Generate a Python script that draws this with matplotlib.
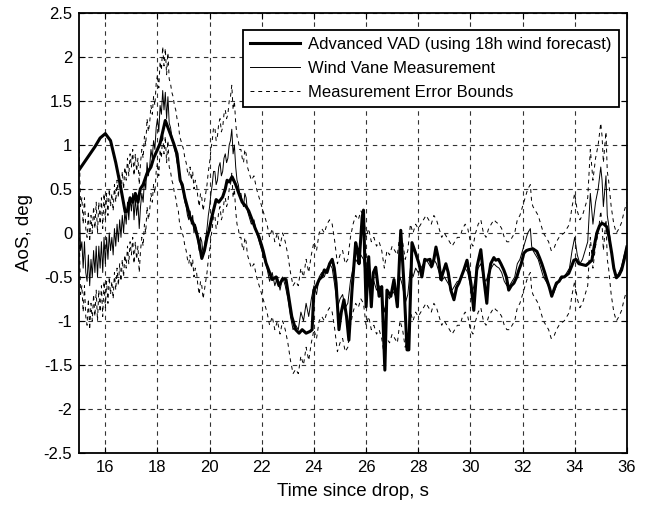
import numpy as np
import matplotlib
matplotlib.use("Agg")
import matplotlib.pyplot as plt
from matplotlib.ticker import FuncFormatter

plt.rcParams['font.family'] = ['Liberation Sans', 'DejaVu Sans']
plt.rcParams['axes.unicode_minus'] = False

# Advanced VAD estimate (thick line)
vad_t = [15.0, 15.3, 15.6, 15.8, 16.0, 16.2, 16.4, 16.57, 16.76, 16.85, 16.95, 17.05, 17.15, 17.25,
         17.34, 17.45, 17.6, 17.75, 17.85, 18.0, 18.1, 18.2, 18.3, 18.4, 18.5, 18.62, 18.75, 18.87,
         18.95, 19.05, 19.14, 19.25, 19.37, 19.5, 19.6, 19.7, 19.8, 19.9, 19.98, 20.1, 20.25, 20.35,
         20.5, 20.6, 20.67, 20.75, 20.86, 21.0, 21.12, 21.25, 21.4, 21.5, 21.63, 21.75, 21.9, 22.05,
         22.16, 22.3, 22.4, 22.55, 22.66, 22.8, 22.93, 23.05, 23.15, 23.3, 23.43, 23.55, 23.7, 23.85,
         23.93, 24.0, 24.1, 24.2, 24.3, 24.4, 24.5, 24.6, 24.7, 24.78, 24.85, 24.96, 25.05, 25.15,
         25.25, 25.34, 25.46, 25.6, 25.67, 25.73, 25.85, 25.9, 26.0, 26.1, 26.2, 26.28, 26.37, 26.5,
         26.6, 26.72, 26.8, 26.95, 27.07, 27.2, 27.33, 27.45, 27.57, 27.64, 27.76, 27.9, 28.03, 28.14,
         28.25, 28.33, 28.45, 28.52, 28.6, 28.68, 28.78, 28.87, 28.95, 29.06, 29.15, 29.25, 29.37,
         29.47, 29.56, 29.65, 29.75, 29.87, 30.02, 30.13, 30.25, 30.4, 30.52, 30.63, 30.7, 30.78,
         30.9, 30.97, 31.08, 31.17, 31.28, 31.38, 31.47, 31.57, 31.67, 31.78, 31.86, 31.95, 32.05,
         32.15, 32.24, 32.4, 32.55, 32.65, 32.74, 32.85, 32.93, 33.03, 33.12, 33.2, 33.3, 33.4, 33.5,
         33.6, 33.77, 33.88, 33.97, 34.05, 34.16, 34.3, 34.43, 34.55, 34.66, 34.75, 34.85, 34.95,
         35.04, 35.12, 35.23, 35.32, 35.42, 35.5, 35.6, 35.7, 35.8, 35.9, 36.0]
vad_aos = [0.72, 0.85, 0.98, 1.08, 1.13, 1.05, 0.8, 0.55, 0.24, 0.25, 0.4, 0.35, 0.45, 0.35,
           0.5, 0.55, 0.68, 0.75, 0.85, 0.95, 1.02, 1.15, 1.28, 1.2, 1.12, 1.02, 0.9, 0.6,
           0.55, 0.4, 0.3, 0.18, 0.11, 0.0, -0.12, -0.29, -0.2, -0.05, 0.03, 0.2, 0.38, 0.35,
           0.41, 0.5, 0.6, 0.58, 0.64, 0.55, 0.45, 0.35, 0.3, 0.25, 0.15, 0.05, -0.05, -0.2,
           -0.34, -0.45, -0.53, -0.5, -0.6, -0.52, -0.53, -0.76, -0.95, -1.1, -1.14, -1.1, -1.14, -1.12,
           -1.1, -0.65, -0.6, -0.53, -0.5, -0.42, -0.45, -0.35, -0.3, -0.4, -0.57, -1.1, -0.9, -0.76,
           -0.95, -1.22, -0.65, -0.11, -0.2, -0.35, 0.18, 0.26, -0.84, -0.27, -0.84, -0.45, -0.39, -0.72,
           -0.61, -1.56, -0.65, -0.72, -0.53, -0.84, 0.03, -0.57, -1.33, -1.33, -0.11, -0.23, -0.35, -0.5,
           -0.3, -0.31, -0.3, -0.38, -0.3, -0.16, -0.3, -0.53, -0.45, -0.35, -0.45, -0.65, -0.76,
           -0.62, -0.57, -0.5, -0.42, -0.31, -0.57, -0.88, -0.39, -0.19, -0.53, -0.8, -0.5, -0.35,
           -0.28, -0.31, -0.3, -0.35, -0.42, -0.5, -0.65, -0.6, -0.57, -0.5, -0.42, -0.35, -0.23,
           -0.2, -0.19, -0.18, -0.21, -0.28, -0.35, -0.45, -0.53, -0.62, -0.72, -0.65, -0.57, -0.55, -0.5,
           -0.5, -0.46, -0.38, -0.31, -0.3, -0.35, -0.36, -0.37, -0.34, -0.31, -0.15, 0.0, 0.08,
           0.11, 0.1, 0.07, -0.05, -0.23, -0.4, -0.51, -0.48, -0.42, -0.3, -0.16]

# wind vane measurement (thin line)
vane_t = [15.0, 15.05, 15.1, 15.15, 15.2, 15.25, 15.3, 15.35, 15.4, 15.45, 15.5, 15.55, 15.6, 15.65,
          15.7, 15.75, 15.8, 15.85, 15.9, 15.95, 16.0, 16.05, 16.1, 16.15, 16.2, 16.25, 16.3, 16.35,
          16.4, 16.45, 16.5, 16.55, 16.6, 16.65, 16.7, 16.75, 16.8, 16.85, 16.9, 16.95, 17.0, 17.05,
          17.1, 17.15, 17.2, 17.25, 17.3, 17.35, 17.4, 17.45, 17.5, 17.55, 17.6, 17.65, 17.7, 17.75,
          17.8, 17.85, 17.9, 17.95, 18.0, 18.05, 18.1, 18.15, 18.2, 18.25, 18.3, 18.35, 18.4, 18.45,
          18.5, 18.55, 18.6, 18.65, 18.7, 18.75, 18.8, 18.85, 18.9, 18.95, 19.0, 19.05, 19.1, 19.15,
          19.2, 19.25, 19.3, 19.35, 19.4, 19.45, 19.5, 19.55, 19.6, 19.65, 19.7, 19.75, 19.8, 19.85,
          19.9, 19.95, 20.0, 20.05, 20.1, 20.15, 20.2, 20.25, 20.3, 20.35, 20.4, 20.45, 20.5, 20.55,
          20.6, 20.65, 20.7, 20.75, 20.8, 20.85, 20.9, 20.95, 21.0, 21.05, 21.1, 21.15, 21.2, 21.25,
          21.3, 21.35, 21.4, 21.45, 21.5, 21.6, 21.7, 21.8, 21.9, 22.0, 22.1, 22.2, 22.3, 22.4,
          22.5, 22.6, 22.7, 22.8, 22.9, 23.0, 23.1, 23.2, 23.3, 23.4, 23.5, 23.6, 23.7, 23.8,
          23.9, 24.0, 24.1, 24.2, 24.3, 24.4, 24.5, 24.6, 24.7, 24.8, 24.9, 25.0, 25.1, 25.2,
          25.3, 25.4, 25.5, 25.6, 25.7, 25.8, 25.9, 26.0, 26.1, 26.2, 26.3, 26.4, 26.5, 26.6,
          26.7, 26.8, 26.9, 27.0, 27.1, 27.2, 27.3, 27.4, 27.5, 27.6, 27.7, 27.8, 27.9, 28.0,
          28.1, 28.2, 28.3, 28.4, 28.5, 28.6, 28.7, 28.8, 28.9, 29.0, 29.1, 29.2, 29.3, 29.4,
          29.5, 29.6, 29.7, 29.8, 29.9, 30.0, 30.1, 30.2, 30.3, 30.4, 30.5, 30.6, 30.7, 30.8,
          30.9, 31.0, 31.1, 31.2, 31.3, 31.4, 31.5, 31.6, 31.7, 31.8, 31.9, 32.0, 32.1, 32.2,
          32.3, 32.35, 32.4, 32.5, 32.6, 32.7, 32.8, 32.9, 33.0, 33.1, 33.2, 33.3, 33.4, 33.5,
          33.6, 33.7, 33.8, 33.9, 34.0, 34.1, 34.2, 34.3, 34.4, 34.5, 34.6, 34.7, 34.8, 34.9,
          35.0, 35.05, 35.1, 35.2, 35.25, 35.3, 35.4, 35.5, 35.6, 35.7, 35.8, 35.9, 36.0]
vane_aos = [0.45, -0.2, -0.1, -0.4, -0.1, -0.45, -0.55, -0.25, -0.6, -0.3, -0.5, -0.2, -0.45, -0.15,
            -0.5, -0.15, -0.4, -0.1, -0.45, -0.05, -0.35, -0.05, -0.3, 0.0, -0.2, -0.05, -0.25, 0.05,
            -0.15, 0.1, -0.1, 0.15, -0.05, 0.2, 0.0, 0.25, 0.1, 0.35, 0.15, 0.4, 0.25, 0.45,
            0.15, 0.4, 0.2, 0.35, 0.05, 0.3, 0.45, 0.35, 0.6, 0.5, 0.8, 0.65, 0.75, 0.95,
            0.85, 1.05, 0.95, 1.2, 1.3, 1.15, 1.45, 1.35, 1.62, 1.4, 1.6, 1.3, 1.55, 1.25,
            1.2, 1.1, 1.05, 0.95, 0.9, 0.8, 0.75, 0.6, 0.55, 0.5, 0.45, 0.35, 0.3, 0.2,
            0.15, 0.25, 0.1, 0.2, 0.0, 0.1, 0.05, -0.1, -0.2, -0.05, -0.1, -0.25, -0.15, -0.05,
            0.05, 0.2, 0.3, 0.45, 0.55, 0.7, 0.7, 0.55, 0.6, 0.75, 0.8, 0.65, 0.7, 0.85,
            0.9, 0.8, 0.85, 1.0, 1.05, 1.18, 0.9, 1.0, 0.75, 0.6, 0.55, 0.45, 0.45, 0.35,
            0.3, 0.45, 0.4, 0.25, 0.2, 0.1, 0.15, 0.0, -0.1, -0.2, -0.3, -0.4, -0.55, -0.45,
            -0.6, -0.5, -0.65, -0.5, -0.6, -0.75, -0.95, -1.1, -1.05, -1.1, -0.9, -1.0, -0.8, -0.95,
            -0.75, -0.6, -0.7, -0.5, -0.45, -0.5, -0.4, -0.35, -0.4, -0.6, -0.85, -0.75, -0.7, -0.85,
            -0.8, -0.55, -0.4, -0.3, -0.35, -0.25, -0.3, -0.55, -0.45, -0.6, -0.55, -0.65, -0.6, -0.7,
            -0.9, -0.7, -0.75, -0.65, -0.7, -0.75, -0.5, -0.6, -0.8, -0.7, -0.4, -0.5, -0.4, -0.45,
            -0.4, -0.35, -0.3, -0.35, -0.4, -0.3, -0.35, -0.45, -0.55, -0.5, -0.55, -0.6, -0.65, -0.6,
            -0.55, -0.55, -0.45, -0.4, -0.45, -0.6, -0.65, -0.5, -0.4, -0.35, -0.5, -0.55, -0.45, -0.4,
            -0.35, -0.38, -0.4, -0.45, -0.55, -0.6, -0.6, -0.55, -0.5, -0.35, -0.3, -0.2, -0.1, 0.0,
            0.05, -0.15, -0.2, -0.25, -0.3, -0.4, -0.5, -0.55, -0.6, -0.7, -0.68, -0.6, -0.55, -0.52,
            -0.5, -0.45, -0.4, -0.2, -0.05, -0.25, -0.35, -0.3, -0.2, -0.1, 0.45, 0.1, 0.35, 0.5,
            0.75, 0.6, 0.3, 0.65, 0.2, 0.1, -0.2, -0.4, -0.5, -0.45, -0.38, -0.25, -0.15]

meas_err = 0.5  # +/- bound around vane reading

vane_t = np.array(vane_t)
vane_aos = np.array(vane_aos)

fig, ax = plt.subplots(figsize=(6.55, 5.07), dpi=100)
fig.subplots_adjust(left=0.121, right=0.957, top=0.974, bottom=0.107)

ax.plot(vad_t, vad_aos, color='black', lw=2.2, label='Advanced VAD (using 18h wind forecast)', zorder=4)
ax.plot(vane_t, vane_aos, color='black', lw=0.7, label='Wind Vane Measurement', zorder=3)
ax.plot(vane_t, vane_aos + meas_err, color='black', lw=0.7, ls=(0, (4, 4)),
        label='Measurement Error Bounds', zorder=2)
ax.plot(vane_t, vane_aos - meas_err, color='black', lw=0.7, ls=(0, (4, 4)), zorder=2)

ax.set_xlim(15, 36)
ax.set_ylim(-2.5, 2.5)
ax.set_xticks(np.arange(16, 37, 2))
ax.set_yticks(np.arange(-2.5, 2.51, 0.5))
ax.yaxis.set_major_formatter(FuncFormatter(lambda v, p: '%g' % v))
ax.grid(True, color='#333333', ls=(0, (4, 4)), lw=0.8)
ax.tick_params(direction='in', top=True, right=True, labelsize=12, length=4, pad=5)
for s in ax.spines.values():
    s.set_linewidth(1.3)

ax.set_xlabel('Time since drop, s', fontsize=13.5, labelpad=6)
ax.set_ylabel('AoS, deg', fontsize=13.5, labelpad=8)

leg = ax.legend(loc='upper right', bbox_to_anchor=(0.985, 0.961), borderaxespad=0, fontsize=12,
                fancybox=False, framealpha=1, edgecolor='black', handlelength=3.0, handletextpad=0.5,
                borderpad=0.4, labelspacing=0.55)
leg.get_frame().set_linewidth(1.3)

fig.savefig('out.png', dpi=100)
